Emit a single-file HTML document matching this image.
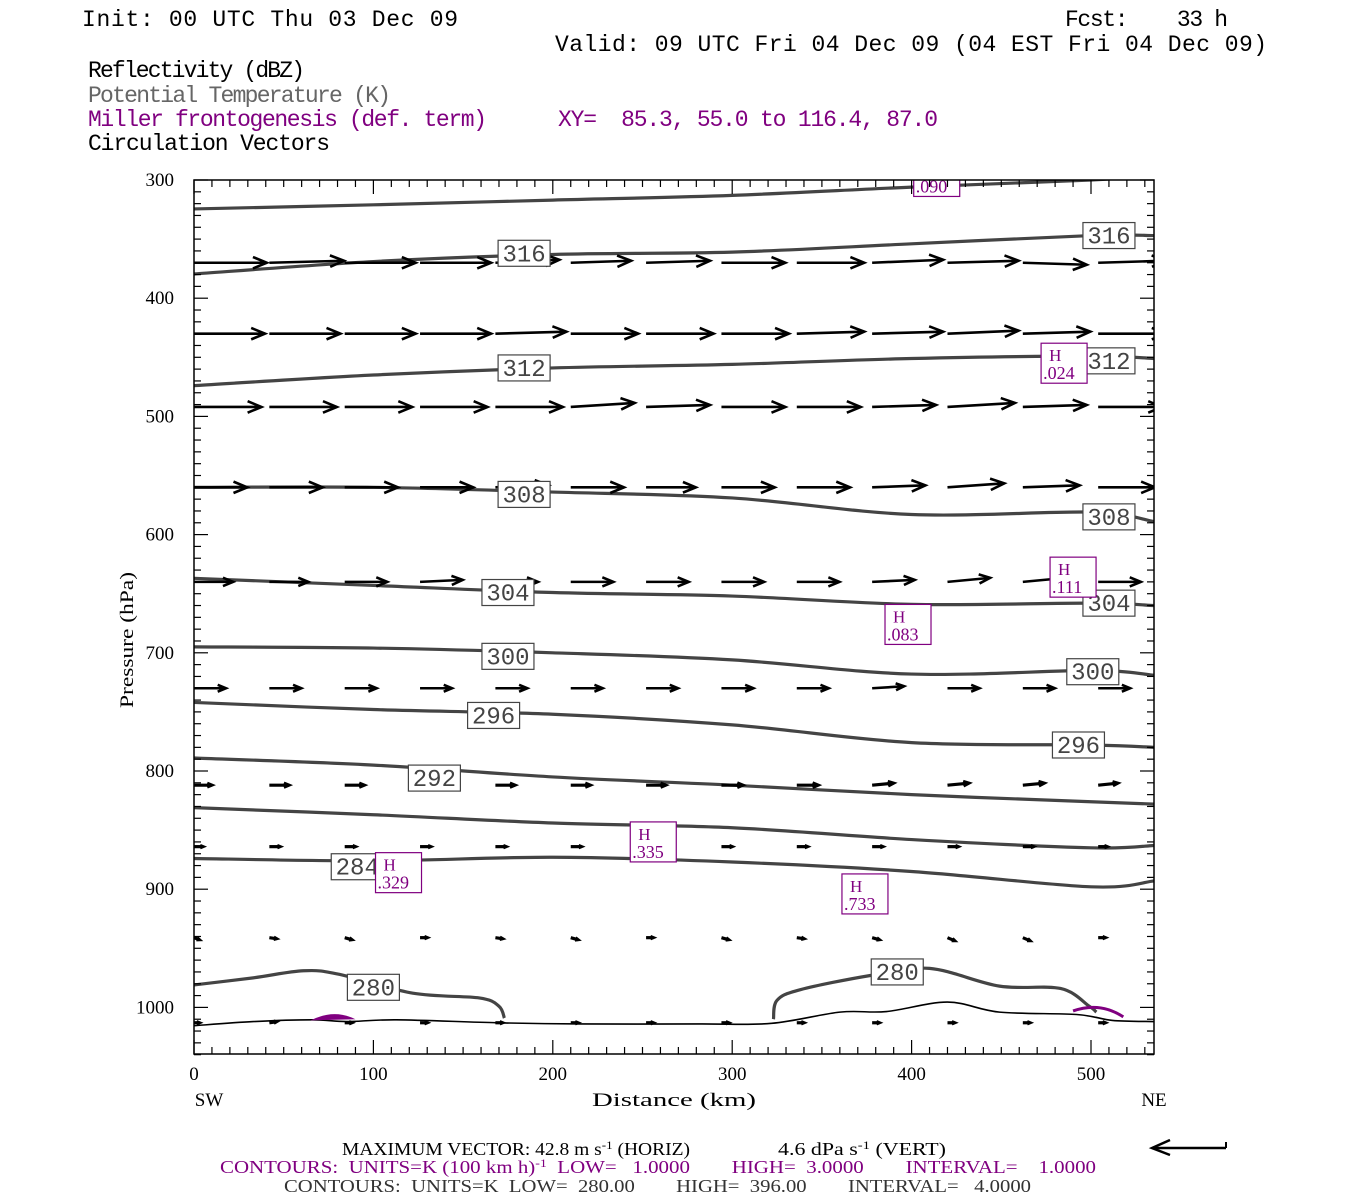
<!DOCTYPE html>
<html><head><meta charset="utf-8"><style>
body{margin:0;background:#fff;width:1350px;height:1200px;overflow:hidden}
svg{display:block}
.h{font-family:"Liberation Mono",monospace;font-size:23px}
.ft{font-family:"Liberation Serif",serif;font-size:18px}
.tk{font-family:"Liberation Serif",serif;font-size:19px}
</style></head><body>
<svg id="c" width="1350" height="1200">
<g>
<text class="h" x="82" y="26" textLength="376">Init: 00 UTC Thu 03 Dec 09</text>
<text class="h" x="1065" y="26" textLength="163" xml:space="preserve">Fcst:    33 h</text>
<text class="h" x="555" y="51" textLength="712">Valid: 09 UTC Fri 04 Dec 09 (04 EST Fri 04 Dec 09)</text>
<text class="h" x="88" y="77" textLength="217">Reflectivity (dBZ)</text>
<text class="h" x="88" y="102" textLength="303" fill="#666">Potential Temperature (K)</text>
<text class="h" x="88" y="126" textLength="399" fill="#800080">Miller frontogenesis (def. term)</text>
<text class="h" x="558" y="126" textLength="380" fill="#800080" xml:space="preserve">XY=  85.3, 55.0 to 116.4, 87.0</text>
<text class="h" x="88" y="150" textLength="242">Circulation Vectors</text>
</g>
<defs><clipPath id="pc"><rect x="194" y="180" width="960" height="874"/></clipPath></defs>
<g id="plot" clip-path="url(#pc)"></g>
<rect x="194" y="180" width="960" height="874" fill="none" stroke="#000" stroke-width="1.5"/>
<g id="ticks"></g>
<text class="tk" x="133" y="640" text-anchor="middle" font-size="21" textLength="136" lengthAdjust="spacingAndGlyphs" transform="rotate(-90 133 640)">Pressure (hPa)</text>
<text class="tk" x="592" y="1106" textLength="164" lengthAdjust="spacingAndGlyphs" font-size="23">Distance (km)</text>
<text class="tk" x="209" y="1106" text-anchor="middle" font-size="21">SW</text>
<text class="tk" x="1154" y="1106" text-anchor="middle" font-size="21">NE</text>
<g>
<text class="ft" x="342" y="1155" textLength="348" lengthAdjust="spacingAndGlyphs">MAXIMUM VECTOR:  42.8 m s<tspan dy="-6" font-size="12">-1</tspan><tspan dy="6"> (HORIZ)</tspan></text>
<text class="ft" x="778" y="1155" textLength="168" lengthAdjust="spacingAndGlyphs">4.6 dPa s<tspan dy="-6" font-size="12">-1</tspan><tspan dy="6"> (VERT)</tspan></text>
<text class="ft" x="220" y="1173" fill="#800080" xml:space="preserve" textLength="876" lengthAdjust="spacingAndGlyphs">CONTOURS:  UNITS=K (100 km h)<tspan dy="-6" font-size="12">-1</tspan><tspan dy="6">  LOW=   1.0000        HIGH=  3.0000        INTERVAL=    1.0000</tspan></text>
<text class="ft" x="284" y="1192" fill="#333" xml:space="preserve" textLength="747" lengthAdjust="spacingAndGlyphs">CONTOURS:  UNITS=K  LOW=  280.00        HIGH=  396.00        INTERVAL=   4.0000</text>
<g><line x1="1152" y1="1148" x2="1226" y2="1148" stroke="#000" stroke-width="2.5"/><line x1="1226" y1="1148" x2="1226" y2="1142" stroke="#000" stroke-width="2"/><polyline points="1170,1140 1152,1148 1170,1155" fill="none" stroke="#000" stroke-width="2.5"/></g>
</g>
</svg>
<script>
const NS="http://www.w3.org/2000/svg";
const X=km=>194+km*1.794, Y=p=>180+(p-300)*1.182;
const dist=[0,100,200,300,400,500,535];
const th320=[324.5,321,317,313,306,300,296];
const th316=[379.5,369,363,361,354,347,347];
const th312=[474,465,459,456,451,449,451];
const th308=[560,560,564,569,583,581,589];
const th304=[637,643,649,652,659,658,660];
const th300=[695,696,700,706,718,715,719];
const th296=[742,748,752,761,776,778,780];
const th292=[789,795,805,812,820,826,828];
const th288=[831,837,844,848,858,865,863];
const th284=[874,876,873,877,885,898,893];
const th280aKm=[0,33,61,81,122,159,170,173];
const th280aP=[981,975,969,972,988,992,999,1009];
const th280bKm=[323,325,338,377,410,449,483,499,503];
const th280bP=[1010,994,985,973,967,982,984,999,1004];
const groundKm=[0,33,66,85,113,169,215,282,322,360,386,420,449,492,512,535];
const groundP=[1015.5,1012,1010.5,1012,1010.5,1013,1014,1014,1013.5,1004,1003.5,995.5,1004,1006,1011,1012];
const labVals=[316,316,312,312,308,308,304,304,300,300,296,296,292,284,280,280];
const labKm=[184,510,184,510,184,510,175,510,175,501,167,493,134,91,100,392];
const labP=[362,347,459,453,566,585,649,658,703,716,753,778,806,881,983,970];
const hVals=[".024",".111",".083",".335",".329",".733",".090"];
const hKm=[485,490,398,256,114,374,414];
const hP=[455,636,676,860,886,904,297];
const vecP=[370,430,492,560,640,730,812,864,941,1013];
const vecU=[
[41,42,40,40,36,34,36,36,38,40,40,36,38],
[40,40,40,40,40,38,38,38,38,40,40,38,38],
[38,38,38,38,38,36,36,36,36,36,38,36,36],
[30,30,30,30,30,30,28,30,30,30,32,32,32],
[22,22,24,24,24,24,24,24,24,24,24,24,24],
[18,18,18,18,18,18,18,18,18,18,18,18,18],
[10,11,11,11,11,11,11,12,12,12,12,12,11],
[5,6,6,6,6,6,6,6,6,6,6,6,5],
[3,4,4,4,4,4,4,4,4,4,4,4,4],
[3,4,4,4,4,4,4,4,4,4,4,4,4]];
const vecW=[
[0,-2,0,0,-3,-2,-2,0,0,-3,-2,2,-2],
[0,0,0,0,-2,0,0,0,-2,-2,-3,-2,0],
[0,0,0,0,0,-4,-2,0,0,-2,-4,-2,0],
[0,0,0,0,-2,0,0,0,0,-2,-4,-2,0],
[0,0,0,-2,0,0,0,0,0,-2,-4,-4,0],
[0,0,0,0,0,0,0,0,0,-2,0,0,0],
[0,0,0,0,0,0,0,0,0,-2,-2,-2,-2],
[0,0,0,0,0,0,-2,0,0,0,0,0,0],
[2,1,2,0,1,2,0,2,1,2,3,3,0],
[0,-1,0,0,0,0,0,0,0,0,0,0,0]];
const colKm=[0,42,84,126,168,210,252,294,336,378,420,462,504];

const plot=document.getElementById('plot');
function mk(t,a,parent){const e=document.createElementNS(NS,t);for(const k in a)e.setAttribute(k,a[k]);(parent||plot).appendChild(e);return e;}
function smooth(pts){let d='M'+pts[0][0]+','+pts[0][1];for(let i=0;i<pts.length-1;i++){const p0=pts[Math.max(0,i-1)],p1=pts[i],p2=pts[i+1],p3=pts[Math.min(pts.length-1,i+2)];const c1=[p1[0]+(p2[0]-p0[0])/6,p1[1]+(p2[1]-p0[1])/6],c2=[p2[0]-(p3[0]-p1[0])/6,p2[1]-(p3[1]-p1[1])/6];d+=` C${c1[0]},${c1[1]} ${c2[0]},${c2[1]} ${p2[0]},${p2[1]}`;}return d;}
const thetaSets=[th320,th316,th312,th308,th304,th300,th296,th292,th288,th284];
thetaSets.forEach((arr,i)=>{
const e=mk('path',{d:smooth(dist.map((k,j)=>[X(k),Y(arr[j])])),fill:'none',stroke:'#444','stroke-width':3.2});


});
[[th280aKm,th280aP,'a'],[th280bKm,th280bP,'b']].forEach(s=>{
const e=mk('path',{d:smooth(s[0].map((k,j)=>[X(k),Y(s[1][j])])),fill:'none',stroke:'#444','stroke-width':3.2});


});
const g=mk('path',{d:smooth(groundKm.map((k,j)=>[X(k),Y(groundP[j])])),fill:'none',stroke:'#000','stroke-width':1.6});


const b1=mk('path',{d:`M${X(65)},${Y(1011)} Q${X(78)},${Y(1001)} ${X(90)},${Y(1010)} Z`,fill:'#800080'});


const b2=mk('path',{d:`M${X(490)},${Y(1003)} Q${X(505)},${Y(995)} ${X(518)},${Y(1008)}`,fill:'none',stroke:'#800080','stroke-width':3});


const sc=76/42.8;
vecP.forEach((p,r)=>{colKm.forEach((k,c)=>{
const L=vecU[r][c]*sc, w=vecW[r][c];
const x1=X(k), y1=Y(p);
const x2=x1+L, y2=y1+w;
const grp=mk('g',{});


const sw=L<25?3.2:2.6;
mk('line',{x1,y1,x2,y2,stroke:'#000','stroke-width':sw},grp);
const ang=Math.atan2(y2-y1,x2-x1),hl=Math.min(15,Math.max(3,L*0.28));
const a1=ang+2.75,a2=ang-2.75;
mk('polyline',{points:`${x2+hl*Math.cos(a1)},${y2+hl*Math.sin(a1)} ${x2},${y2} ${x2+hl*Math.cos(a2)},${y2+hl*Math.sin(a2)}`,fill:'none',stroke:'#000','stroke-width':sw},grp);
});});
labVals.forEach((v,i)=>{
const cx=X(labKm[i]),cy=Y(labP[i]);
const grp=mk('g',{});


mk('rect',{x:cx-26,y:cy-13,width:52,height:26,fill:'#fff',stroke:'#444','stroke-width':1.2},grp);
const t=mk('text',{x:cx,y:cy+8,'text-anchor':'middle','font-family':'"Liberation Mono",monospace','font-size':24,fill:'#444'},grp);t.textContent=v;
});
hVals.forEach((v,i)=>{
const cx=X(hKm[i]),cy=Y(hP[i]);
const grp=mk('g',{});


mk('rect',{x:cx-23,y:cy-20,width:46,height:40,fill:'#fff',stroke:'#800080','stroke-width':1.2},grp);
const t1=mk('text',{x:cx-15,y:cy-2,'font-family':'"Liberation Serif",serif','font-size':17,fill:'#800080'},grp);t1.textContent='H';
const t2=mk('text',{x:cx-21,y:cy+16,'font-family':'"Liberation Serif",serif','font-size':18,fill:'#800080'},grp);t2.textContent=v;
});
const tk=document.getElementById('ticks');
for(let p=300;p<=1040;p+=10){const y=Y(p),L=(p%100==0)?14:7;
mk('line',{x1:194,y1:y,x2:194+L,y2:y,stroke:'#000','stroke-width':1.2},tk);
mk('line',{x1:1154,y1:y,x2:1154-L,y2:y,stroke:'#000','stroke-width':1.2},tk);
if(p%100==0){const t=mk('text',{x:174,y:y+6,'text-anchor':'end',class:'tk'},tk);t.textContent=p;

}}
for(let k=0;k<=535;k+=10){const x=X(k),L=(k%100==0)?14:7;
mk('line',{x1:x,y1:1054,x2:x,y2:1054-L,stroke:'#000','stroke-width':1.2},tk);
mk('line',{x1:x,y1:180,x2:x,y2:180+L,stroke:'#000','stroke-width':1.2},tk);
if(k%100==0){const t=mk('text',{x:x,y:1080,'text-anchor':'middle',class:'tk'},tk);t.textContent=k;

}}
</script>
</body></html>
